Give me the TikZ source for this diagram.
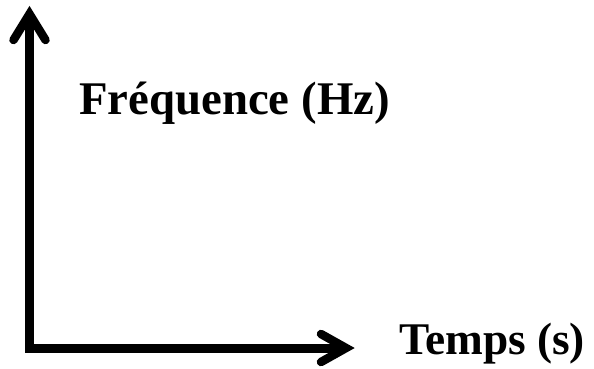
\documentclass[tikz,border=0pt]{standalone}
\usepackage{fontspec}
\setmainfont{Liberation Serif}
\begin{document}
\begin{tikzpicture}[x=1pt,y=-1pt,
  axis/.style={line width=9pt, line cap=butt},
  head/.style={line width=8.5pt, line cap=round, line join=miter, miter limit=10},
  lbl/.style={inner sep=0pt, anchor=base west, font=\bfseries}]
\useasboundingbox (0,0) rectangle (594,368);
\coordinate (origin) at (29.5,348);
\coordinate (ytip) at (29.5,14);
\coordinate (xtip) at (346,348);
\draw[axis] (29.5,352.5) -- (ytip);
\draw[axis] (25,348) -- (xtip);
\draw[head] ([shift={(-16,26)}]ytip) -- (ytip) -- ([shift={(16,26)}]ytip);
\draw[head] ([shift={(-25,-14)}]xtip) -- (xtip) -- ([shift={(-25,14)}]xtip);
\node[lbl, font=\fontsize{46.8}{50}\selectfont\bfseries] (freq) at (79,114) {Fréquence (Hz)};
\node[lbl, font=\fontsize{45.3}{48}\selectfont\bfseries] (temps) at (399,354) {Temps (s)};
\end{tikzpicture}
\end{document}
